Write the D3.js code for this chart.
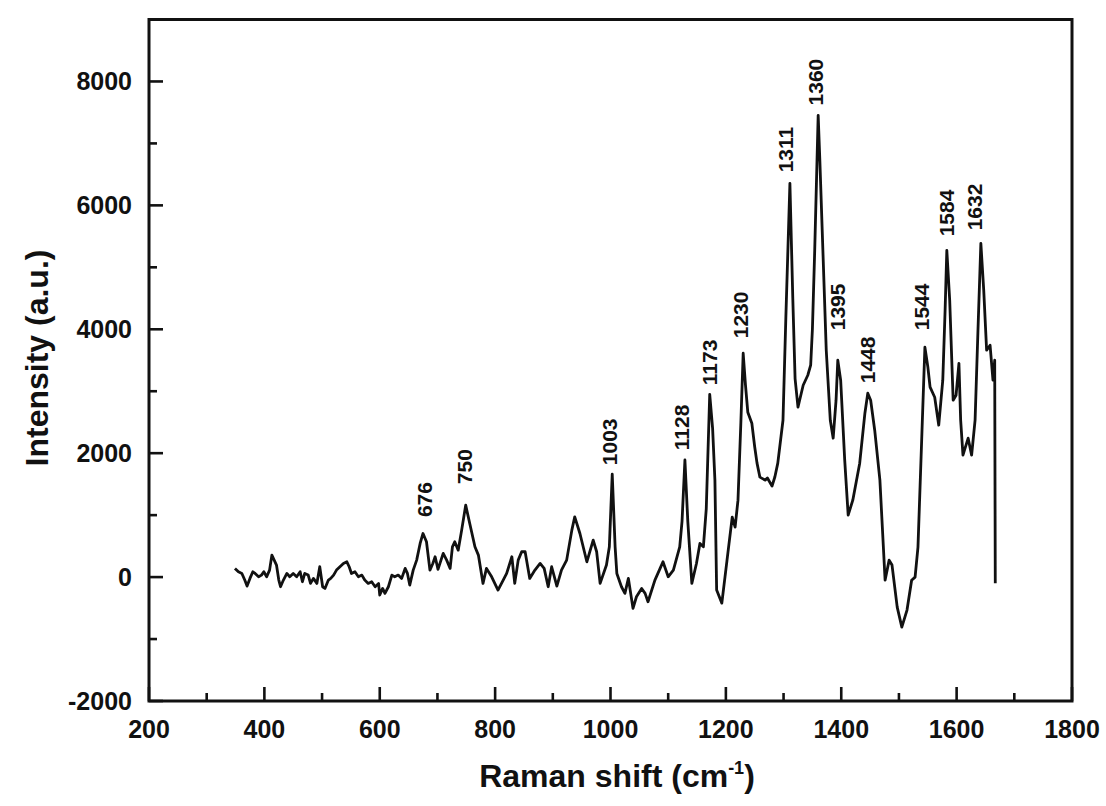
<!DOCTYPE html>
<html>
<head>
<meta charset="utf-8">
<script src="https://cdn.jsdelivr.net/npm/d3@7"></script>
<style>
  html, body { margin: 0; padding: 0; background: #ffffff; }
  svg { display: block; }
  text { font-family: "Liberation Sans", Arial, sans-serif; font-weight: bold; fill: #111; }
</style>
</head>
<body>
<svg id="chart" width="1106" height="806"></svg>
<script>
// ---- data ----
const wavenumbers = [349,355,361,366,370,375,380,384,390,395,399,404,409,413,417,421,425,428,433,439,444,450,456,462,466,470,476,480,485,491,496,501,505,511,515,520,525,531,537,543,547,551,557,563,569,574,580,586,592,598,600,605,609,615,621,626,632,638,644,648,652,658,664,
670,675,681,687,692,696,701,710,716,722,726,730,736,742,749,756,765,771,779,785,794,805,814,820,829,834,840,846,852,860,869,878,885,892,898,907,915,924,933,938,947,959,970,976,982,993,998,1003,1008,1011,1019,1025,1031,1039,1045,1054,1060,1065,1077,1086,1091,1100,1109,1120,1124,1129,1134,1141,1149,1155,1161,1166,1172,
1177,1181,1184,1193,1202,1211,1216,1221,1226,1230,1234,1238,1245,1250,1254,1259,1268,1272,1280,1285,1290,1299,1304,1311,1316,1320,1325,1334,1342,1347,1350,1354,1360,1363,1367,1374,1381,1386,1391,1394,1399,1406,1412,1420,1432,1441,1446,1451,1458,1467,1476,1483,1488,1497,1505,1514,1522,1528,1533,1540,1545,1550,1554,1562,1569,1576,1580,1583,1588,1594,1599,1604,1607,1611,1620,1626,1632,1637,1642,1647,1652,1658,1663,1666,1667];
const intensity = [140,86,59,-48,-145,-21,86,59,5,32,86,5,113,355,274,194,-48,-156,-48,59,5,59,5,86,-75,59,32,-102,-21,-102,167,-156,-183,-48,-21,32,113,167,220,247,167,59,86,5,32,-48,-102,-75,-156,-102,-290,-183,-263,-156,32,5,32,-21,140,59,-129,113,274,
543,704,570,113,220,328,124,382,274,140,489,570,435,758,1161,866,489,355,-102,140,5,-210,-48,59,328,-102,274,409,409,-21,113,220,140,-156,167,-145,113,274,758,973,704,247,597,409,-102,194,489,1660,489,59,-156,-263,-21,-505,-317,-183,-263,-398,-48,140,247,5,113,489,900,1890,900,-102,220,543,489,1100,2950,
2400,1565,-210,-420,275,968,806,1242,2500,3613,3100,2661,2484,2100,1839,1613,1565,1600,1468,1620,1839,2532,4200,6355,4500,3200,2742,3097,3258,3420,4000,5275,7452,6700,5597,3662,2532,2242,2855,3500,3178,1887,1000,1242,1839,2645,2968,2855,2371,1565,-50,274,194,-484,-807,-532,-50,0,484,2371,3710,3400,3065,2903,2452,3178,4300,5275,4468,2855,2935,3450,2532,1968,2242,1968,2532,3984,5387,4629,3662,3742,3178,3500,-100];

const peakLabels = ["676","750","1003","1128","1173","1230","1311","1360","1395","1448","1544","1584","1632"];
const peakLabelX = [678,748,999,1124,1171,1226,1304,1356,1393,1446,1540,1583,1632];
const peakLabelY = [968,1500,1806,2048,3097,3855,6533,7613,3984,3129,3984,5500,5597];

const xMajorTicks = [200,400,600,800,1000,1200,1400,1600,1800];
const xMinorTicks = [300,500,700,900,1100,1300,1500,1700];
const yMajorTicks = [-2000,0,2000,4000,6000,8000];
const yMinorTicks = [-1000,1000,3000,5000,7000];

const xTitle = "Raman shift (cm";
const xTitleSup = "-1";
const yTitle = "Intensity (a.u.)";

// ---- layout ----
const plotL = 149, plotR = 1072, plotT = 19.5, plotB = 701;
const svg = d3.select("#chart");
const x = d3.scaleLinear().domain([200, 1800]).range([plotL, plotR]);
const y = d3.scaleLinear().domain([-2000, 9000]).range([plotB, plotT]);

const points = wavenumbers.map((w, i) => [w, intensity[i]]);

// spectrum line
const line = d3.line().x(d => x(d[0])).y(d => y(d[1])).curve(d3.curveLinear);
svg.append("path")
  .datum(points)
  .attr("d", line)
  .attr("fill", "none")
  .attr("stroke", "#111")
  .attr("stroke-width", 2.8)
  .attr("stroke-linejoin", "round");

// frame
svg.append("rect")
  .attr("x", plotL).attr("y", plotT)
  .attr("width", plotR - plotL).attr("height", plotB - plotT)
  .attr("fill", "none").attr("stroke", "#111").attr("stroke-width", 3);

// x ticks (inward)
const gx = svg.append("g");
gx.selectAll("line.maj").data(xMajorTicks).join("line").attr("class", "maj")
  .attr("x1", d => x(d)).attr("x2", d => x(d))
  .attr("y1", plotB).attr("y2", plotB - 14)
  .attr("stroke", "#111").attr("stroke-width", 2.6);
gx.selectAll("line.min").data(xMinorTicks).join("line").attr("class", "min")
  .attr("x1", d => x(d)).attr("x2", d => x(d))
  .attr("y1", plotB).attr("y2", plotB - 8)
  .attr("stroke", "#111").attr("stroke-width", 2.6);
gx.selectAll("text").data(xMajorTicks).join("text")
  .attr("x", d => x(d)).attr("y", plotB + 37)
  .attr("text-anchor", "middle")
  .attr("font-size", 25)
  .text(d => d);

// y ticks (inward)
const gy = svg.append("g");
gy.selectAll("line.maj").data(yMajorTicks).join("line").attr("class", "maj")
  .attr("x1", plotL).attr("x2", plotL + 14)
  .attr("y1", d => y(d)).attr("y2", d => y(d))
  .attr("stroke", "#111").attr("stroke-width", 2.6);
gy.selectAll("line.min").data(yMinorTicks).join("line").attr("class", "min")
  .attr("x1", plotL).attr("x2", plotL + 8)
  .attr("y1", d => y(d)).attr("y2", d => y(d))
  .attr("stroke", "#111").attr("stroke-width", 2.6);
gy.selectAll("text").data(yMajorTicks).join("text")
  .attr("x", plotL - 17).attr("y", d => y(d))
  .attr("dy", "0.35em")
  .attr("text-anchor", "end")
  .attr("font-size", 25)
  .text(d => d);

// axis titles
const xt = svg.append("text")
  .attr("x", 617).attr("y", 787)
  .attr("text-anchor", "middle")
  .attr("font-size", 32);
xt.append("tspan").text(xTitle);
xt.append("tspan").attr("font-size", 18).attr("dy", -13).text(xTitleSup);
xt.append("tspan").attr("dy", 13).text(")");

svg.append("text")
  .attr("transform", "translate(37,358) rotate(-90)")
  .attr("dy", "0.35em")
  .attr("text-anchor", "middle")
  .attr("font-size", 32)
  .text(yTitle);

// peak labels
svg.append("g").selectAll("text").data(peakLabels).join("text")
  .attr("transform", (d, i) => `translate(${x(peakLabelX[i])},${y(peakLabelY[i])}) rotate(-90)`)
  .attr("dy", "0.35em")
  .attr("text-anchor", "start")
  .attr("font-size", 21)
  .text(d => d);
</script>
</body>
</html>
